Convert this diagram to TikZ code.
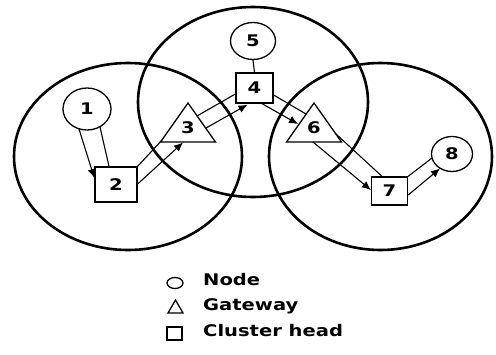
\documentclass[tikz,border=0pt]{standalone}
\usepackage{graphicx}
\usepackage{fontspec}
\setmainfont{DejaVu Sans}
\usetikzlibrary{shapes.geometric,arrows.meta,calc}

% widened bold lettering
\newcommand\widetext[1]{\scalebox{1.22}[1]{#1}}

\begin{document}
\begin{tikzpicture}[x=1pt,y=-1pt,
  cluster/.style={line width=2.6pt},
  lbl/.style={font=\bfseries\fontsize{16}{16}\selectfont,inner sep=0pt},
  member/.style={ellipse,draw,line width=1.3pt,inner sep=0pt,lbl},
  head/.style={rectangle,draw,line width=1.3pt,inner sep=0pt,lbl},
  gate/.style={line width=1.3pt,line join=miter},
  link/.style={line width=1.1pt},
  hop/.style={link,-{Latex[length=9pt,width=8pt]}},
]
\useasboundingbox (0,0) rectangle (496,354);
\fill[white] (0,0) rectangle (496,354);

% cluster ranges
\draw[cluster] (128,156.5) ellipse [x radius=114pt, y radius=93.5pt];
\draw[cluster] (253,102) ellipse [x radius=115pt, y radius=95pt];
\draw[cluster] (380.5,156.5) ellipse [x radius=111.5pt, y radius=93.5pt];

% members, gateways and cluster heads
\node[member,minimum width=48pt,minimum height=42pt] (n1) at (87,109) {\widetext{1}};
\node[head,minimum width=42pt,minimum height=35pt] (n2) at (116,184.5) {\widetext{2}};
\node[lbl] (t3) at (188,128) {\widetext{3}};
\draw[gate] ($(t3)+(0,-25)$) -- ($(t3)+(-27.5,14)$) -- ($(t3)+(27.5,14)$) -- cycle;
\node[head,minimum width=37pt,minimum height=30pt] (n4) at (254.5,88) {\widetext{4}};
\node[member,minimum width=45pt,minimum height=37pt] (n5) at (253,41) {\widetext{5}};
\node[lbl] (t6) at (314,128) {\widetext{6}};
\draw[gate] ($(t6)+(0,-25)$) -- ($(t6)+(-27.5,14)$) -- ($(t6)+(27.5,14)$) -- cycle;
\node[head,minimum width=36pt,minimum height=28pt] (n7) at (389.5,191) {\widetext{7}};
\node[member,minimum width=41pt,minimum height=35pt] (n8) at (452,154) {\widetext{8}};

% links: each hop drawn as a plain line beside an arrowed one
\draw[link] ($(n1)+(13,18)$) -- ($(n2.north)+(-7,0)$);
\draw[hop]  ($(n1)+(-8,20)$) -- ($(n2.west)+(0,-6.5)$);

\draw[link] (n2.north east) -- ($(t3)+(-26,12)$);
\draw[hop]  ($(n2.east)+(0,-0.5)$) -- ($(t3)+(-5,14.5)$);

\draw[link] ($(t3)+(9,-12)$) -- ($(n4.west)+(0,6)$);
\draw[hop]  ($(t3)+(18,0)$) -- ($(n4.south)+(-7,1)$);

\draw[link] ($(n4.east)+(0,7)$) -- ($(t6)+(-8,-14)$);
\draw[hop]  ($(n4.south)+(7.5,0)$) -- ($(t6)+(-16,-4)$);

\draw[link] ($(t6)+(22,6)$) -- ($(n7.north)+(-7.5,0)$);
\draw[hop]  ($(t6)+(-1,14)$) -- ($(n7.west)+(0,-1)$);

\draw[link] (n7.north east) -- ($(n8)+(-20,4)$);
\draw[hop]  ($(n7.east)+(0,4)$) -- ($(n8)+(-12,14.5)$);

\draw[link] (n5.south) -- (n4.north);

% legend
\node[ellipse,draw,line width=1.3pt,minimum width=16pt,minimum height=11pt,inner sep=0pt] (kn) at (175,283) {};
\draw[gate] (175.5,300) -- (168,313) -- (183,313) -- cycle;
\node[rectangle,draw,line width=1.3pt,minimum width=15pt,minimum height=13pt,inner sep=0pt] (kc) at (174.5,333.5) {};
\node[lbl,anchor=base west] (tn) at (203,285) {\widetext{Node}};
\node[lbl,anchor=base west] (tg) at (203,310) {\widetext{Gateway}};
\node[lbl,anchor=base west] (tc) at (203,336) {\widetext{Cluster head}};
\end{tikzpicture}
\end{document}
